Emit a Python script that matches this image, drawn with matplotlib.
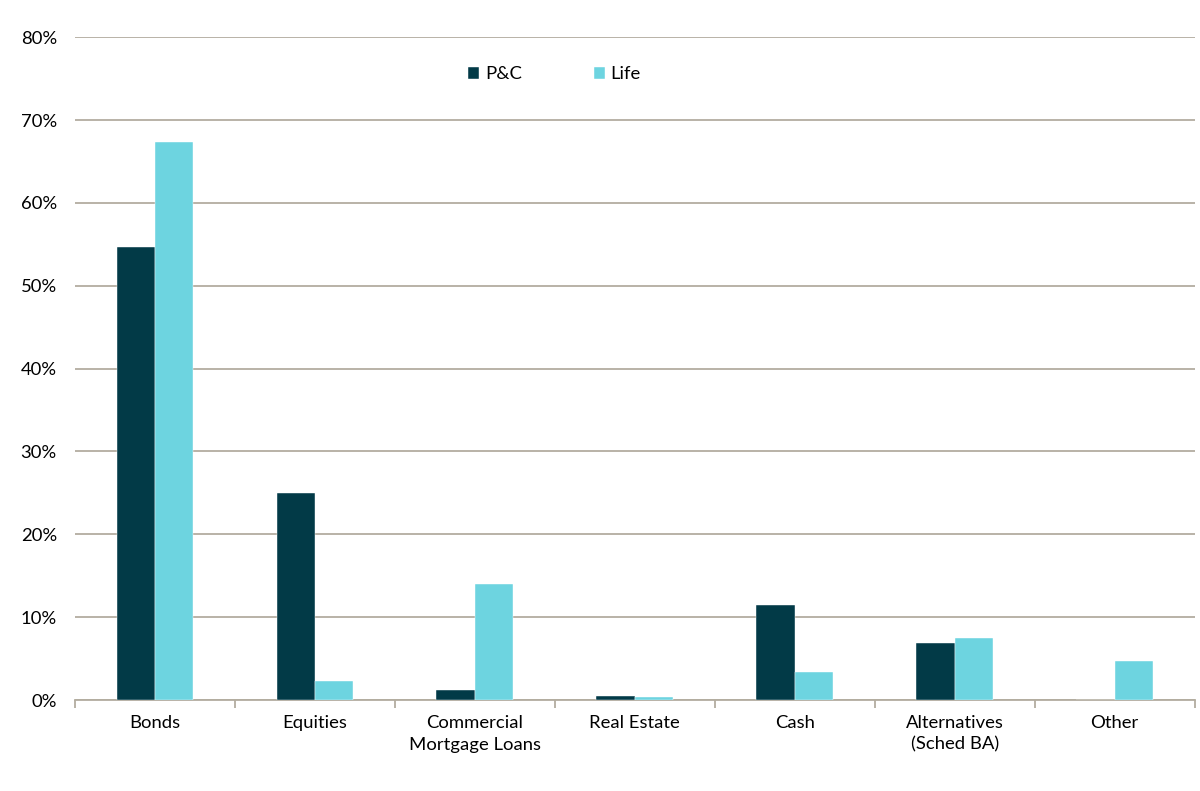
import matplotlib
matplotlib.use('Agg')
import matplotlib.pyplot as plt
import numpy as np
from matplotlib.ticker import FixedLocator, PercentFormatter

categories = ['Bonds', 'Equities', 'Commercial\nMortgage Loans', 'Real Estate',
              'Cash', 'Alternatives\n(Sched BA)', 'Other']
pc_values = [54.7, 25.0, 1.2, 0.5, 11.5, 6.9, 0.0]
life_values = [67.4, 2.3, 14.0, 0.4, 3.4, 7.5, 4.7]

plt.rcParams['font.family'] = ['Lato', 'DejaVu Sans']

grid_color = '#B3ADA0'
pc_color = '#023A47'
life_color = '#6DD4E0'

fig = plt.figure(figsize=(12, 7.91), dpi=100)
ax = fig.add_axes([0.0625, 0.115, 0.933, 0.838])

x = np.arange(len(categories))
w = 0.24
ax.bar(x - w / 2, pc_values, w, color=pc_color, edgecolor='white', linewidth=0.3, label='P&C', zorder=3)
ax.bar(x + w / 2, life_values, w, color=life_color, edgecolor='white', linewidth=0.3, label='Life', zorder=3)

ax.set_xlim(-0.5, len(categories) - 0.5)
ax.set_ylim(0, 80)
ax.set_yticks(np.arange(0, 81, 10))
ax.yaxis.set_major_formatter(PercentFormatter(decimals=0))
ax.grid(axis='y', color=grid_color, linewidth=1.3, zorder=0)

ax.set_xticks(x)
ax.set_xticklabels(categories, linespacing=1.4)
ax.xaxis.set_minor_locator(FixedLocator(np.arange(-0.5, len(categories), 1.0)))
ax.tick_params(axis='x', which='major', length=0, pad=11, labelsize=13.3)
ax.tick_params(axis='x', which='minor', length=6, width=1.3, color=grid_color)
ax.tick_params(axis='y', length=0, pad=13, labelsize=13.3)

for side in ['top', 'right', 'left']:
    ax.spines[side].set_visible(False)
ax.spines['bottom'].set_color(grid_color)
ax.spines['bottom'].set_linewidth(1.3)

fig.legend(loc='center', bbox_to_anchor=(0.462, 0.906), ncol=2, frameon=False,
           fontsize=13.3, handlelength=0.6, handleheight=0.6, handletextpad=0.3,
           columnspacing=3.9)

plt.savefig('out.png', dpi=100)
